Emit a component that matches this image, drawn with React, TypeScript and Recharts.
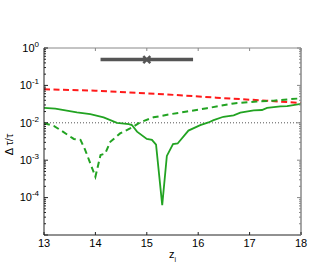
import React from 'react';
import { ComposedChart, Line, Scatter, XAxis, YAxis } from 'recharts';

// ---- data ----
const xTicks = [13, 14, 15, 16, 17, 18];
const yMajorExps = [-5, -4, -3, -2, -1, 0];

const solidZ = [13.0, 13.22, 13.64, 13.9, 14.16, 14.42, 14.65, 14.71, 14.81, 15.0, 15.1, 15.18, 15.3, 15.39, 15.51, 15.6, 15.81, 16.04, 16.2, 16.3, 16.49, 16.69, 16.82, 17.08, 17.24, 17.34, 17.6, 17.73, 18.0];
const solidV = [0.025, 0.024, 0.019, 0.017, 0.014, 0.010, 0.0092, 0.0087, 0.0058, 0.0037, 0.0035, 0.0026, 0.000063, 0.0013, 0.0027, 0.0028, 0.0062, 0.0087, 0.0102, 0.0118, 0.0145, 0.0158, 0.0186, 0.0215, 0.022, 0.025, 0.0276, 0.028, 0.032];

const dashedZ = [13.0, 13.19, 13.35, 13.58, 13.71, 13.8, 13.9, 14.0, 14.1, 14.19, 14.29, 14.48, 14.61, 14.74, 14.87, 15.13, 15.46, 15.78, 16.17, 16.69, 17.14, 17.47, 17.79, 18.0];
const dashedV = [0.0097, 0.0083, 0.006, 0.0037, 0.0035, 0.0019, 0.00083, 0.00036, 0.00138, 0.0015, 0.0031, 0.0052, 0.0064, 0.0079, 0.0103, 0.014, 0.017, 0.020, 0.0245, 0.033, 0.037, 0.039, 0.043, 0.045];

const redZ = [13.0, 14.0, 15.33, 16.35, 17.33, 18.0];
const redV = [0.079, 0.072, 0.058, 0.047, 0.039, 0.034];

const refZ = [13, 18];
const refV = [0.01, 0.01];

const barZ = [14.1, 15.9];
const barV = [0.49, 0.49];
const markZ = [15.0];
const markV = [0.49];

// ---- build tables ----
const toRows = (zs: number[], vs: number[]) => zs.map((z, i) => ({ z, v: vs[i] }));
const solidData = toRows(solidZ, solidV);
const dashedData = toRows(dashedZ, dashedV);
const redData = toRows(redZ, redV);
const refData = toRows(refZ, refV);
const barData = toRows(barZ, barV);
const markData = toRows(markZ, markV);

const yTicks: number[] = [];
yMajorExps.forEach((e) => {
  yTicks.push(Math.pow(10, e));
  if (e < 0) for (let k = 2; k <= 9; k++) yTicks.push(k * Math.pow(10, e));
});

const FONT = '"Liberation Sans", Arial, Helvetica, sans-serif';
const isMajor = (v: number) => {
  const l = Math.log10(v);
  return Math.abs(l - Math.round(l)) < 1e-6;
};

const LeftTick = (props: any) => {
  const { x, y, payload } = props;
  const v = payload.value;
  const major = isMajor(v);
  const e = Math.round(Math.log10(v));
  return (
    <g>
      <line x1={x} x2={x + (major ? 4 : 2)} y1={y} y2={y} stroke="#222" strokeWidth={1} />
      {major && e > -5 && (
        <text x={x - 5} y={y} dy="0.35em" textAnchor="end" fontFamily={FONT} fontSize={11} fill="#000">
          10
          <tspan dy={-5} fontSize={8}>{String(e)}</tspan>
        </text>
      )}
    </g>
  );
};

const RightTick = (props: any) => {
  const { x, y, payload } = props;
  const major = isMajor(payload.value);
  return <line x1={x} x2={x - (major ? 4 : 2)} y1={y} y2={y} stroke="#888" strokeWidth={1} />;
};

const BottomTick = (props: any) => {
  const { x, y, payload } = props;
  return (
    <g>
      <line x1={x} x2={x} y1={y} y2={y - 3} stroke="#222" strokeWidth={1} />
      <text x={x} y={y + 12} textAnchor="middle" fontFamily={FONT} fontSize={11} fill="#000">
        {payload.value}
      </text>
    </g>
  );
};

const TopTick = (props: any) => {
  const { x, y } = props;
  return <line x1={x} x2={x} y1={y} y2={y + 3} stroke="#888" strokeWidth={1} />;
};

const Cross = (props: any) => {
  const { cx, cy } = props;
  const s = 3.5;
  return (
    <g>
      <line x1={cx - s} x2={cx + s} y1={cy - s} y2={cy + s} stroke="#555" strokeWidth={2.5} />
      <line x1={cx - s} x2={cx + s} y1={cy + s} y2={cy - s} stroke="#555" strokeWidth={2.5} />
    </g>
  );
};

const YLabel = (props: any) => {
  const vb = props.viewBox || { x: 0, y: 48, width: 44, height: 187 };
  const x = 13;
  const y = vb.y + vb.height / 2 + 3;
  return (
    <text x={x} y={y} transform={`rotate(-90 ${x} ${y})`} textAnchor="middle" fontFamily={FONT} fontSize={11} fill="#000">
      Δ τ/τ
    </text>
  );
};

const XLabel = (props: any) => {
  const vb = props.viewBox || { x: 44, y: 235, width: 257, height: 30 };
  const x = vb.x + vb.width / 2;
  return (
    <text x={x} y={258} textAnchor="middle" fontFamily={FONT} fontSize={11} fill="#000">
      z
      <tspan dy={4} fontSize={7}>i</tspan>
    </text>
  );
};

export default function App() {
  return (
    <div style={{ position: 'absolute', left: 0, top: 0, width: 332, height: 265, background: '#fff' }}>
      <ComposedChart width={332} height={265} margin={{ top: 0, right: 0, bottom: 0, left: 0 }}>
        <XAxis
          xAxisId={0}
          dataKey="z"
          type="number"
          domain={[13, 18]}
          ticks={xTicks}
          interval={0}
          height={30}
          tickSize={0}
          tickMargin={0}
          tick={<BottomTick />}
          axisLine={{ stroke: '#222', strokeWidth: 1 }}
          allowDataOverflow
          label={<XLabel />}
        />
        <XAxis
          xAxisId="top"
          orientation="top"
          dataKey="z"
          type="number"
          domain={[13, 18]}
          ticks={xTicks}
          interval={0}
          height={48}
          tickSize={0}
          tickMargin={0}
          tick={<TopTick />}
          axisLine={{ stroke: '#888', strokeWidth: 1 }}
          allowDataOverflow
        />
        <YAxis
          yAxisId={0}
          dataKey="v"
          scale="log"
          type="number"
          domain={[1e-5, 1]}
          ticks={yTicks}
          interval={0}
          width={44}
          tickSize={0}
          tickMargin={0}
          tick={<LeftTick />}
          axisLine={{ stroke: '#222', strokeWidth: 1 }}
          allowDataOverflow
          label={<YLabel />}
        />
        <YAxis
          yAxisId="right"
          orientation="right"
          dataKey="v"
          scale="log"
          type="number"
          domain={[1e-5, 1]}
          ticks={yTicks}
          interval={0}
          width={31}
          tickSize={0}
          tickMargin={0}
          tick={<RightTick />}
          axisLine={{ stroke: '#888', strokeWidth: 1.5 }}
          allowDataOverflow
        />
        <Line data={refData} dataKey="v" xAxisId={0} yAxisId={0} stroke="#555" strokeWidth={1} strokeDasharray="1 2" dot={false} isAnimationActive={false} />
        <Line data={redData} dataKey="v" xAxisId={0} yAxisId={0} stroke="#ff1a1a" strokeWidth={2} strokeDasharray="6 3.5" dot={false} isAnimationActive={false} />
        <Line data={dashedData} dataKey="v" xAxisId={0} yAxisId={0} stroke="#22a322" strokeWidth={2} strokeDasharray="6 4" dot={false} isAnimationActive={false} />
        <Line data={solidData} dataKey="v" xAxisId={0} yAxisId={0} stroke="#22a322" strokeWidth={1.8} dot={false} isAnimationActive={false} />
        <Line data={barData} dataKey="v" xAxisId={0} yAxisId={0} stroke="#555" strokeWidth={3.5} dot={false} isAnimationActive={false} />
        <Scatter data={markData} dataKey="v" xAxisId={0} yAxisId={0} shape={<Cross />} isAnimationActive={false} />
      </ComposedChart>
    </div>
  );
}
